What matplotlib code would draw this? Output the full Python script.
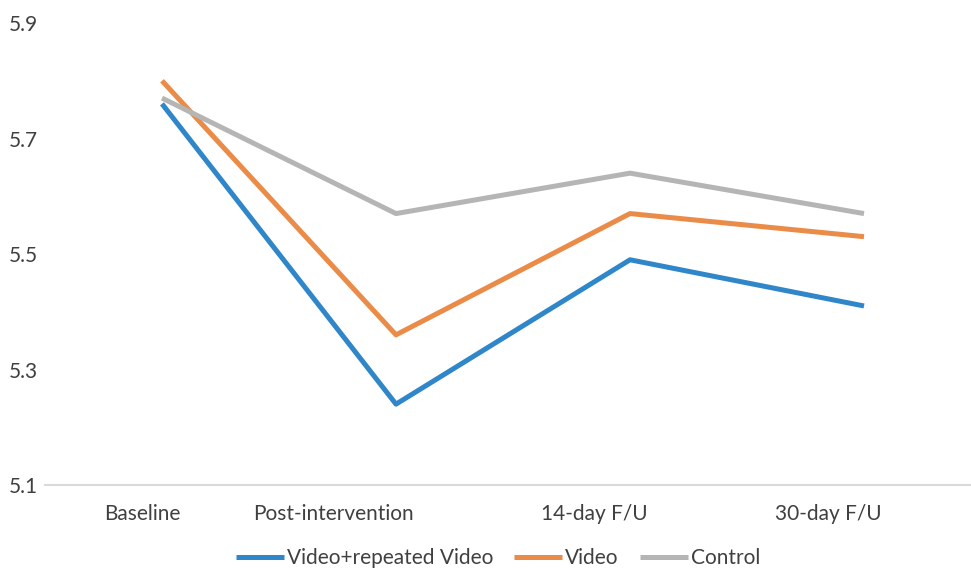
import matplotlib
matplotlib.use("Agg")
import matplotlib.pyplot as plt
import matplotlib.transforms as mtransforms

categories = ["Baseline", "Post-intervention", "14-day F/U", "30-day F/U"]
video_repeated = [5.76, 5.24, 5.49, 5.41]
video = [5.80, 5.36, 5.57, 5.53]
control = [5.77, 5.57, 5.64, 5.57]
series_names = ["Video+repeated Video", "Video", "Control"]
y_ticks = [5.1, 5.3, 5.5, 5.7, 5.9]

plt.rcParams["font.family"] = ["Lato", "DejaVu Sans"]

W, H = 971, 570
fig = plt.figure(figsize=(W / 100, H / 100), dpi=100)
ax = fig.add_axes([45 / W, (H - 485) / H, (971 - 45) / W, (485 - 23) / H])

colors = ["#2F86C8", "#EA8B48", "#B5B5B5"]
x = range(len(categories))
for vals, name, c in zip([video_repeated, video, control], series_names, colors):
    ax.plot(x, vals, color=c, lw=3.6, label=name, solid_capstyle="butt")

ax.set_ylim(5.1, 5.9)
ax.set_xlim(-0.5, -0.5 + 926 / 234)
ax.set_yticks(y_ticks)
ax.set_yticklabels([f"{v:.1f}" for v in y_ticks])
ax.set_xticks(list(x))
ax.set_xticklabels(categories)
ax.tick_params(axis="both", length=0, labelsize=15, colors="#404040")
ax.tick_params(axis="y", pad=5)
ax.tick_params(axis="x", pad=14)

# category labels sit right-aligned just past each point
shift = mtransforms.ScaledTranslation(18 / 100, 0, fig.dpi_scale_trans)
for lbl in ax.get_xticklabels():
    lbl.set_horizontalalignment("right")
    lbl.set_transform(lbl.get_transform() + shift)

for side in ["top", "right", "left"]:
    ax.spines[side].set_visible(False)
ax.spines["bottom"].set_color("#D9D9D9")
ax.spines["bottom"].set_linewidth(1.5)

leg = fig.legend(loc="center", bbox_to_anchor=(498 / W, (H - 558) / H), ncol=3,
                 frameon=False, fontsize=15, handlelength=2.3, handletextpad=0.15,
                 columnspacing=1.0)
for t in leg.get_texts():
    t.set_color("#404040")

fig.savefig("out.png", dpi=100)
